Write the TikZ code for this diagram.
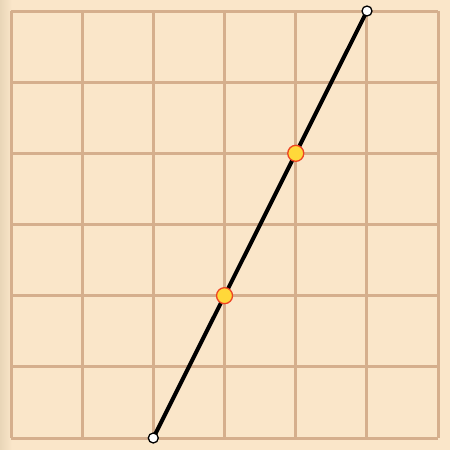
\documentclass[tikz,border=0pt]{standalone}
\usetikzlibrary{calc}
\definecolor{bg}{HTML}{FAE6C9}
\definecolor{bgdark}{HTML}{E9D6B8}
\definecolor{gridc}{HTML}{D5AF8D}
\definecolor{ptfill}{HTML}{FFD83A}
\definecolor{ptline}{HTML}{EE4422}
\tikzset{
  gridline/.style={draw=gridc, line width=3pt},
  endpt/.style={circle, draw=black, fill=white, line width=1.3pt, minimum size=10pt, inner sep=0pt},
  midpt/.style={circle, draw=ptline, fill=ptfill, line width=1.3pt, minimum size=16pt, inner sep=0pt},
  mainline/.style={draw=black, line width=4pt}
}
\begin{document}
\begin{tikzpicture}[x=1pt,y=-1pt]
\useasboundingbox (0,0) rectangle (450,450);
\fill[bg] (0,0) rectangle (450,450);
\shade[left color=bgdark, right color=bg] (0,0) rectangle (12,450);
\foreach \i in {0,...,6} {
  \draw[gridline] ({11+\i*71.17},11) -- ({11+\i*71.17},438);
  \draw[gridline] (11,{11+\i*71.17}) -- (438,{11+\i*71.17});
}
\coordinate (A) at (153.3,438);
\coordinate (B) at (367,11);
\draw[mainline] (A) -- (B);
\node[endpt] (a) at (A) {};
\node[endpt] (b) at (B) {};
\node[midpt] (p) at ($(A)!1/3!(B)$) {};
\node[midpt] (q) at ($(A)!2/3!(B)$) {};
\end{tikzpicture}
\end{document}
